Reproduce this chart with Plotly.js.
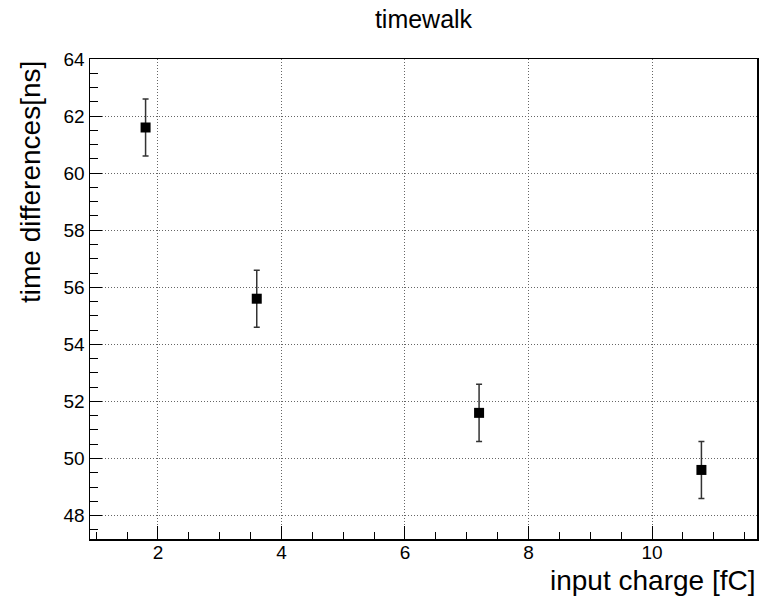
<!DOCTYPE html>
<html>
<head>
<meta charset="utf-8">
<script src="https://cdn.plot.ly/plotly-3.0.1.min.js"></script>
<style>
  html, body { margin: 0; padding: 0; background: #fff; }
  #chart { width: 760px; height: 596px; }
</style>
</head>
<body>
<div id="chart"></div>
<script>
// Timewalk measurement: mean time difference versus injected charge
const charge = [1.8, 3.6, 7.2, 10.8];          // fC
const timeDiff = [61.6, 55.6, 51.6, 49.6];     // ns
const timeErr = [1.0, 1.0, 1.0, 1.0];          // ns

const font = "Liberation Sans, Arial, Helvetica, sans-serif";

const trace = {
  x: charge,
  y: timeDiff,
  type: 'scatter',
  mode: 'markers',
  marker: { symbol: 'square', size: 10, color: '#000' },
  error_y: { type: 'data', array: timeErr, visible: true, color: '#333', thickness: 1.5, width: 3 },
  showlegend: false,
  hoverinfo: 'x+y'
};

const axisCommon = {
  showline: true, linecolor: '#000', linewidth: 1.5, mirror: true,
  ticks: 'inside', tickcolor: '#000', tickwidth: 1,
  showgrid: true, gridcolor: '#666', griddash: '1px,2px', gridwidth: 1,
  zeroline: false,
  tickfont: { family: font, size: 19, color: '#000' }
};

const layout = {
  width: 760, height: 596,
  margin: { l: 90, r: 3, t: 59, b: 57 },
  paper_bgcolor: '#fff', plot_bgcolor: '#fff',
  title: { text: 'timewalk', font: { family: font, size: 25, color: '#000' },
           x: 0.5, xref: 'paper', y: 0.968, yanchor: 'middle' },
  xaxis: Object.assign({}, axisCommon, {
    range: [0.9, 11.7], dtick: 2, tick0: 0, ticklen: 13, ticklabelstandoff: -4,
    minor: { dtick: 0.5, ticks: 'inside', ticklen: 7, tickcolor: '#000', showgrid: false }
  }),
  yaxis: Object.assign({}, axisCommon, {
    range: [47.18, 64], dtick: 2, tick0: 0, ticklen: 12,
    minor: { dtick: 0.5, ticks: 'inside', ticklen: 8, tickcolor: '#000', showgrid: false }
  }),
  annotations: [
    { text: 'time differences[ns]', xref: 'paper', yref: 'paper',
      x: -0.09, y: 1.0, xanchor: 'center', yanchor: 'top', textangle: -90,
      showarrow: false, font: { family: font, size: 28, color: '#000' } },
    { text: 'input charge [fC]', xref: 'paper', yref: 'paper',
      x: 1.0, y: -0.087, xanchor: 'right', yanchor: 'middle',
      showarrow: false, font: { family: font, size: 28, color: '#000' } }
  ]
};

Plotly.newPlot('chart', [trace], layout, { displayModeBar: false, staticPlot: true });
</script>
</body>
</html>
